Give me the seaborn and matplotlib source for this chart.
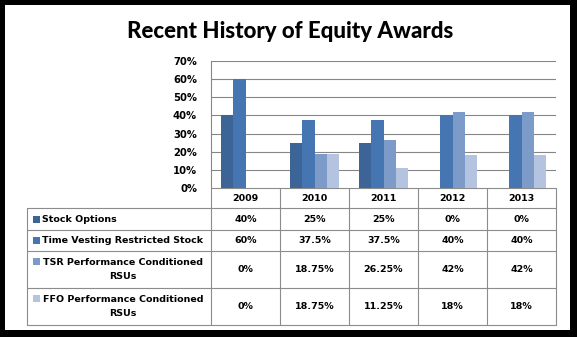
import matplotlib
matplotlib.use("Agg")
import matplotlib.pyplot as plt
import seaborn as sns
import pandas as pd
from matplotlib.patches import Rectangle

# ---- data ----
years = ["2009", "2010", "2011", "2012", "2013"]
series_names = ["Stock Options", "Time Vesting Restricted Stock",
                "TSR Performance Conditioned RSUs", "FFO Performance Conditioned RSUs"]
row_labels = ["Stock Options", "Time Vesting Restricted Stock",
              "TSR Performance Conditioned\nRSUs", "FFO Performance Conditioned\nRSUs"]
stock_options = [40, 25, 25, 0, 0]
time_vesting = [60, 37.5, 37.5, 40, 40]
tsr_rsus = [0, 18.75, 26.25, 42, 42]
ffo_rsus = [0, 18.75, 11.25, 18, 18]
y_ticks = [0, 10, 20, 30, 40, 50, 60, 70]
title = "Recent History of Equity Awards"

colors = ["#3C6496", "#4676B2", "#7D9BC8", "#B4C3DF"]
all_values = [stock_options, time_vesting, tsr_rsus, ffo_rsus]

df = pd.DataFrame([
    {"Year": y, "Series": s, "Value": v}
    for s, vals in zip(series_names, all_values)
    for y, v in zip(years, vals)
])

sns.set_theme(style="white")
plt.rcParams["font.family"] = ["DejaVu Sans"]
plt.rcParams["text.color"] = "black"
plt.rcParams["ytick.color"] = "black"
plt.rcParams["ytick.labelcolor"] = "black"

W, H = 577, 337
fig = plt.figure(figsize=(W / 100, H / 100), dpi=100)
fig.patch.set_facecolor("black")

# background / pixel-space axes
bg = fig.add_axes([0, 0, 1, 1])
bg.set_xlim(0, W)
bg.set_ylim(H, 0)
bg.axis("off")
bg.add_patch(Rectangle((5, 5), 565, 325, facecolor="white", edgecolor="none", zorder=0))

# plot area
x0, x1 = 211, 556
ytop, ybot = 61, 188
ax = fig.add_axes([x0 / W, (H - ybot) / H, (x1 - x0) / W, (ybot - ytop) / H])
ax.set_facecolor("none")
ax.set_zorder(2)
sns.barplot(data=df, x="Year", y="Value", hue="Series", order=years,
            hue_order=series_names, palette=colors, saturation=1,
            width=0.72, ax=ax, legend=False, linewidth=0, zorder=3)
ax.set_xlim(-0.5, 4.5)
ax.set_ylim(0, 70)
ax.set_yticks(y_ticks)
ax.set_yticklabels([f"{t}%" for t in y_ticks], fontsize=7.2, fontweight="bold",
                   color="black")
ax.tick_params(axis="y", length=0, pad=10)
ax.set_xticks([])
ax.set_xlabel("")
ax.set_ylabel("")
for t in y_ticks[1:]:
    ax.axhline(t, color="#868686", lw=0.8, zorder=1)
for side in ["top", "right", "bottom"]:
    ax.spines[side].set_visible(False)
ax.spines["left"].set_color("#868686")
ax.spines["left"].set_linewidth(0.8)

# title
bg.text(290, 38, title, ha="center", va="baseline",
        fontsize=16, fontweight="black", color="black",
        family=["Lato", "DejaVu Sans"])

# data table
lc = "#8C8C8C"
lw = 0.8
col_x = [x0 + i * (x1 - x0) / 5 for i in range(6)]
row_y = [188, 208, 229.5, 250.5, 287.5, 324.5]
hx = 27
bg.plot([x0, x1], [row_y[0], row_y[0]], color=lc, lw=lw)
for yy in row_y[1:]:
    bg.plot([hx, x1], [yy, yy], color=lc, lw=lw)
for xx in col_x:
    bg.plot([xx, xx], [row_y[0], row_y[-1]], color=lc, lw=lw)
bg.plot([hx, hx], [row_y[1], row_y[-1]], color=lc, lw=lw)

fs = 6.8
for i, yr in enumerate(years):
    bg.text((col_x[i] + col_x[i + 1]) / 2, (row_y[0] + row_y[1]) / 2 + 0.5, yr,
            ha="center", va="center", fontsize=fs, fontweight="bold", color="black")
for r, (lab, vals) in enumerate(zip(row_labels, all_values)):
    yc = (row_y[r + 1] + row_y[r + 2]) / 2 + 0.5
    if "\n" in lab:
        bg.add_patch(Rectangle((33, yc - 12), 7, 7, facecolor=colors[r], edgecolor="none"))
        bg.text(123, yc, lab, ha="center", va="center", fontsize=fs,
                fontweight="bold", multialignment="center", linespacing=1.75,
                color="black")
    else:
        bg.add_patch(Rectangle((33, yc - 3.5), 7, 7, facecolor=colors[r], edgecolor="none"))
        bg.text(42, yc, lab, ha="left", va="center", fontsize=fs, fontweight="bold",
                color="black")
    for i, v in enumerate(vals):
        bg.text((col_x[i] + col_x[i + 1]) / 2, yc, f"{v:g}%",
                ha="center", va="center", fontsize=fs, fontweight="bold", color="black")

fig.savefig("out.png", dpi=100, facecolor=fig.get_facecolor())
